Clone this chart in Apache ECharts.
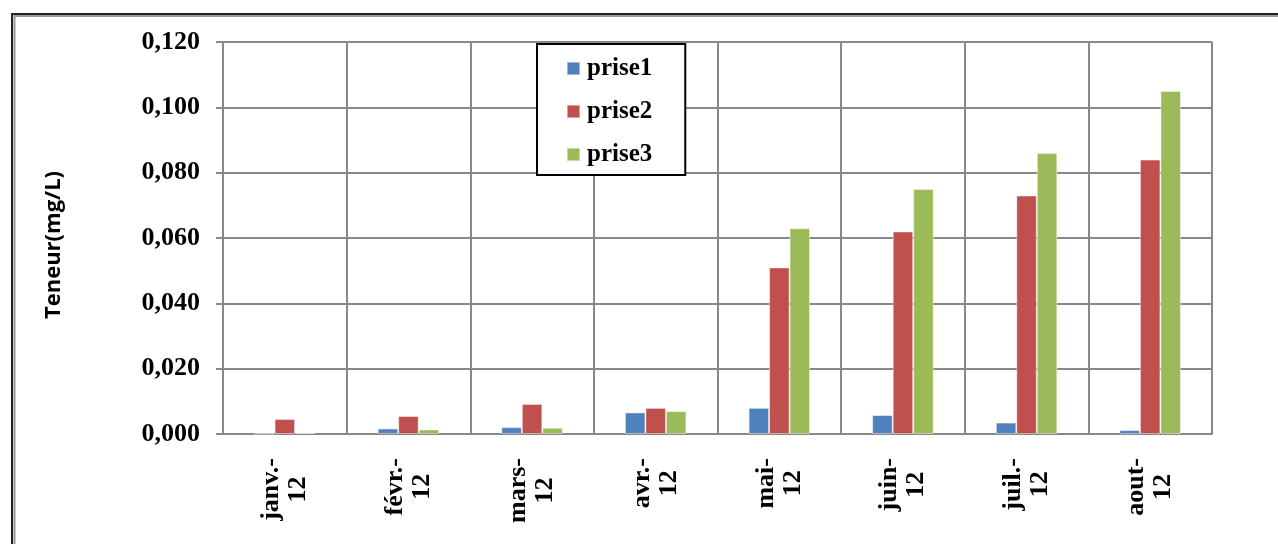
<!DOCTYPE html>
<html>
<head>
<meta charset="utf-8">
<title>Teneur (mg/L)</title>
<script src="https://cdn.jsdelivr.net/npm/echarts@6/dist/echarts.min.js"></script>
<style>
  html, body { margin: 0; padding: 0; background: #ffffff; }
  #chart { width: 1278px; height: 544px; }
</style>
</head>
<body>
<div id="chart"></div>
<script>
// Months (two-line labels: month abbreviation, then year)
const months = ['janv.-', 'févr.-', 'mars-', 'avr.-', 'mai-', 'juin-', 'juil.-', 'aout-'];
const year = '12';

// Concentration per sampling point, mg/L
const prise1 = [0.0001, 0.0017, 0.0021, 0.0066, 0.0080, 0.0058, 0.0035, 0.0012];
const prise2 = [0.0046, 0.0055, 0.0092, 0.0080, 0.051, 0.062, 0.073, 0.084];
const prise3 = [0.0003, 0.0014, 0.0019, 0.0070, 0.063, 0.075, 0.086, 0.105];

// Value axis
const yMin = 0;
const yMax = 0.12;
const yStep = 0.02;

const serif = '"Liberation Serif", "Times New Roman", serif';
const colors = ['#4F81BD', '#C0504D', '#9BBB59'];

const chart = echarts.init(document.getElementById('chart'), null, { renderer: 'canvas' });

function barSeries(name, data, color) {
  return {
    name: name,
    type: 'bar',
    data: data,
    barWidth: 20.5,
    barGap: '0%',
    itemStyle: {
      color: color,
      borderColor: 'rgba(255,255,255,0.45)',
      borderWidth: 1
    },
    emphasis: { disabled: true }
  };
}

chart.setOption({
  animation: false,
  backgroundColor: '#ffffff',
  color: colors,
  grid: { left: 223, right: 66, top: 42, bottom: 110, containLabel: false },
  legend: {
    orient: 'vertical',
    left: 537,
    top: 44,
    padding: [12, 33, 8, 29],
    itemWidth: 13,
    itemHeight: 13,
    itemGap: 18,
    icon: 'rect',
    borderColor: '#000000',
    borderWidth: 2,
    backgroundColor: '#ffffff',
    textStyle: { fontFamily: serif, fontWeight: 'bold', fontSize: 25, lineHeight: 24, color: '#000000', padding: [0, 0, 0, 2] },
    data: ['prise1', 'prise2', 'prise3']
  },
  xAxis: {
    type: 'category',
    data: months,
    boundaryGap: true,
    axisLine: { show: true, lineStyle: { color: '#888888', width: 2 } },
    axisTick: { show: false },
    splitLine: { show: true, lineStyle: { color: '#888888', width: 2 } },
    axisLabel: {
      rotate: 90,
      margin: 24,
      interval: 0,
      formatter: function (v) { return '{c|' + v + '}\n{c|' + year + '}'; },
      rich: {
        c: { align: 'center', fontFamily: serif, fontWeight: 'bold', fontSize: 26, color: '#000000', lineHeight: 27 }
      }
    }
  },
  yAxis: {
    type: 'value',
    min: yMin,
    max: yMax,
    interval: yStep,
    name: 'Teneur(mg/L)',
    nameLocation: 'middle',
    nameGap: 158,
    nameTextStyle: {
      fontFamily: '"Open Sans", sans-serif',
      fontWeight: 'bold',
      fontSize: 22,
      color: '#000000',
      padding: [0, 14, 0, 0]
    },
    axisLine: { show: true, lineStyle: { color: '#888888', width: 2 } },
    axisTick: { show: true, length: 7, lineStyle: { color: '#888888', width: 2 } },
    splitLine: { show: true, lineStyle: { color: '#888888', width: 2 } },
    axisLabel: {
      margin: 23,
      fontFamily: serif,
      fontWeight: 'bold',
      fontSize: 26,
      color: '#000000',
      formatter: function (v) { return v.toFixed(3).replace('.', ','); }
    }
  },
  series: [
    barSeries('prise1', prise1, colors[0]),
    barSeries('prise2', prise2, colors[1]),
    barSeries('prise3', prise3, colors[2])
  ],
  graphic: [
    // outer frame: dark rule with a grey inner rule, top and left edges
    { type: 'line', silent: true, shape: { x1: 12, y1: 14, x2: 1278, y2: 14 }, style: { stroke: '#222222', lineWidth: 2 } },
    { type: 'line', silent: true, shape: { x1: 14, y1: 16, x2: 1278, y2: 16 }, style: { stroke: '#9a9a9a', lineWidth: 2 } },
    { type: 'line', silent: true, shape: { x1: 12, y1: 13, x2: 12, y2: 544 }, style: { stroke: '#222222', lineWidth: 2 } },
    { type: 'line', silent: true, shape: { x1: 14.5, y1: 15, x2: 14.5, y2: 544 }, style: { stroke: '#9a9a9a', lineWidth: 2 } }
  ]
});
</script>
</body>
</html>
